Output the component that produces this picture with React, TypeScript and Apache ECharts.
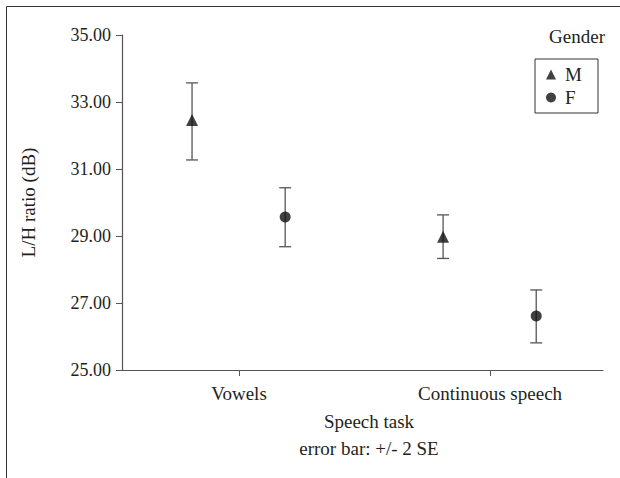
import React, { useEffect, useRef } from "react";
import * as echarts from "echarts";

const categories = ["Vowels", "Continuous speech"];
const categoryX = [1, 2];
const groups = ["M", "F"];
const groupOffset = [-0.187, 0.184];
const mMean = [32.46, 28.98];
const mLow = [31.27, 28.33];
const mHigh = [33.57, 29.63];
const fMean = [29.57, 26.61];
const fLow = [28.68, 25.81];
const fHigh = [30.44, 27.39];
const yTicks = [25, 27, 29, 31, 33, 35];

const FONT = "'Liberation Serif', 'DejaVu Serif', serif";
const TXT = "#231f20";
const FS = 19;

export default function App() {
  const ref = useRef<HTMLDivElement>(null);
  useEffect(() => {
    if (!ref.current) return;
    const chart = echarts.init(ref.current, undefined, { renderer: "svg" });

    const mPts = categoryX.map((x, i) => [x + groupOffset[0], mMean[i]]);
    const fPts = categoryX.map((x, i) => [x + groupOffset[1], fMean[i]]);
    const errData = [
      ...categoryX.map((x, i) => [x + groupOffset[0], mLow[i], mHigh[i]]),
      ...categoryX.map((x, i) => [x + groupOffset[1], fLow[i], fHigh[i]]),
    ];

    chart.setOption({
      animation: false,
      textStyle: { fontFamily: FONT },
      grid: { left: 122, right: 17, top: 35, bottom: 108, containLabel: false },
      xAxis: {
        type: "value",
        min: 0.534,
        max: 2.45,
        splitLine: { show: false },
        axisLine: { show: true, lineStyle: { color: "#555", width: 1.2 } },
        axisTick: { show: true, customValues: categoryX, length: 6, lineStyle: { color: "#555" } },
        axisLabel: {
          customValues: categoryX,
          margin: 14,
          fontSize: FS,
          fontFamily: FONT,
          color: TXT,
          formatter: (v: number) => {
            const i = categoryX.indexOf(Math.round(v));
            return i >= 0 ? categories[i] : "";
          },
        },
      },
      yAxis: {
        type: "value",
        min: yTicks[0],
        max: yTicks[yTicks.length - 1],
        interval: 2,
        name: "L/H ratio (dB)",
        nameLocation: "middle",
        nameGap: 84,
        nameTextStyle: { fontSize: FS, fontFamily: FONT, color: TXT },
        splitLine: { show: false },
        axisLine: { show: true, lineStyle: { color: "#555", width: 1.2 } },
        axisTick: { show: true, length: 6, lineStyle: { color: "#555" } },
        axisLabel: {
          margin: 11,
          fontSize: 18,
          fontFamily: FONT,
          color: TXT,
          formatter: (v: number) => v.toFixed(2),
        },
      },
      legend: {
        orient: "vertical",
        left: 535,
        top: 59,
        data: groups,
        borderColor: "#333",
        borderWidth: 1,
        borderRadius: 0,
        padding: [6, 15, 6, 11],
        itemWidth: 10,
        itemHeight: 10,
        itemGap: 4,
        textStyle: {
          fontSize: FS,
          fontFamily: FONT,
          color: TXT,
          lineHeight: 19,
          width: 18,
          align: "center",
          padding: [0, 0, 0, 4],
        },
      },
      graphic: [
        { type: "line", shape: { x1: 6.5, y1: 6.5, x2: 620, y2: 6.5 }, style: { stroke: "#333", lineWidth: 1 } },
        { type: "line", shape: { x1: 6.5, y1: 6.5, x2: 6.5, y2: 478 }, style: { stroke: "#333", lineWidth: 1 } },
        {
          type: "text",
          x: 577,
          y: 36,
          style: { text: "Gender", fontSize: FS, fontFamily: FONT, fill: TXT, textAlign: "center", textVerticalAlign: "middle" },
        },
        {
          type: "text",
          x: 369,
          y: 421,
          style: { text: "Speech task", fontSize: FS, fontFamily: FONT, fill: TXT, textAlign: "center", textVerticalAlign: "middle" },
        },
        {
          type: "text",
          x: 369,
          y: 448,
          style: { text: "error bar: +/- 2 SE", fontSize: FS, fontFamily: FONT, fill: TXT, textAlign: "center", textVerticalAlign: "middle" },
        },
      ],
      series: [
        {
          type: "custom",
          name: "err",
          data: errData,
          silent: true,
          z: 1,
          renderItem: (params: any, api: any) => {
            const x = api.value(0);
            const lo = api.coord([x, api.value(1)]);
            const hi = api.coord([x, api.value(2)]);
            const w = 6;
            const st = { stroke: "#555", lineWidth: 1.3 };
            return {
              type: "group",
              children: [
                { type: "line", shape: { x1: lo[0], y1: lo[1], x2: hi[0], y2: hi[1] }, style: st },
                { type: "line", shape: { x1: lo[0] - w, y1: lo[1], x2: lo[0] + w, y2: lo[1] }, style: st },
                { type: "line", shape: { x1: hi[0] - w, y1: hi[1], x2: hi[0] + w, y2: hi[1] }, style: st },
              ],
            };
          },
        },
        {
          type: "scatter",
          name: "M",
          data: mPts,
          symbol: "triangle",
          symbolSize: 12,
          itemStyle: { color: "#111" },
          z: 3,
        },
        {
          type: "scatter",
          name: "F",
          data: fPts,
          symbol: "circle",
          symbolSize: 11,
          itemStyle: { color: "#111" },
          z: 3,
        },
      ],
    });
    return () => chart.dispose();
  }, []);
  return (
    <div
      ref={ref}
      style={{ position: "fixed", left: 0, top: 0, width: 620, height: 478, background: "#fff" }}
    />
  );
}
